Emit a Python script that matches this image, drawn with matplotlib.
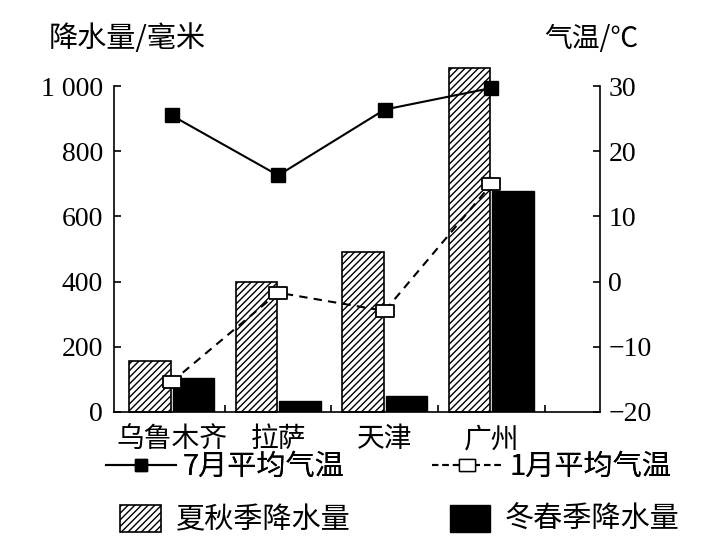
import numpy as np
import matplotlib
matplotlib.use('Agg')
import matplotlib.pyplot as plt
from matplotlib.patches import Patch
from matplotlib.lines import Line2D

plt.rcParams['font.family'] = ['Noto Sans CJK SC', 'DejaVu Sans']
plt.rcParams['hatch.linewidth'] = 1.0
plt.rcParams['axes.unicode_minus'] = True

cities = ['乌鲁木齐', '拉萨', '天津', '广州']
rain_summer = [155, 398, 490, 1056]   # 夏秋季降水量
rain_winter = [105, 33, 48, 678]      # 冬春季降水量
temp_july = [25.5, 16.3, 26.4, 29.7]
temp_jan = [-15.4, -1.7, -4.5, 14.9]

rain_ticks = [0, 200, 400, 600, 800, 1000]
rain_labels = ['0', '200', '400', '600', '800', '1 000']
temp_ticks = [-20, -10, 0, 10, 20, 30]
temp_labels = ['\u221220', '\u221210', '0', '10', '20', '30']

num_font = {'family': 'Liberation Serif', 'size': 20}
cjk = ['Noto Sans CJK SC', 'DejaVu Sans']

fig = plt.figure(figsize=(7.13, 5.5), dpi=100)
ax = fig.add_axes([0.160, 0.251, 0.6815, 0.5925])

x = np.arange(len(cities))
w = 0.39
ax.bar(x - 0.205, rain_summer, w, facecolor='white', edgecolor='black',
       hatch='/////', linewidth=1.2, clip_on=False, zorder=2)
ax.bar(x + 0.205, rain_winter, w, color='black', edgecolor='black',
       linewidth=1.0, zorder=2)

ax.set_xlim(-0.54, 4.02)
ax.set_ylim(0, 1000)
ax.spines['top'].set_visible(False)
ax.spines['right'].set_visible(False)
for s in ax.spines.values():
    s.set_linewidth(1.2)

ax.set_yticks(rain_ticks)
ax.set_yticklabels(rain_labels, fontdict=num_font)
ax.tick_params(axis='y', direction='in', length=5, width=1.2, pad=8)

ax.set_xticks(x + 0.5)
ax.set_xticklabels([])
ax.tick_params(axis='x', which='major', direction='in', length=5, width=1.2)
ax.set_xticks(x, minor=True)
ax.set_xticklabels(cities, minor=True, fontsize=20, family=cjk)
ax.tick_params(axis='x', which='minor', length=0, pad=9)

ax2 = ax.twinx()
ax2.set_ylim(-20, 30)
ax2.spines['top'].set_visible(False)
ax2.spines['left'].set_visible(False)
ax2.spines['bottom'].set_visible(False)
ax2.spines['right'].set_linewidth(1.2)
ax2.set_yticks(temp_ticks)
ax2.set_yticklabels(temp_labels, fontdict=num_font)
ax2.tick_params(axis='y', direction='in', length=5, width=1.2, pad=6)

rect = [(-1.5, -1), (1.5, -1), (1.5, 1), (-1.5, 1), (-1.5, -1)]
l1, = ax2.plot(x, temp_july, color='black', lw=1.5, marker='s',
               markersize=10, markerfacecolor='black', zorder=5,
               clip_on=False)
l2, = ax2.plot(x, temp_jan, color='black', lw=1.5, ls=(0, (4, 3)),
               marker=rect, markersize=13, markerfacecolor='white',
               markeredgecolor='black', markeredgewidth=1.3, zorder=5,
               clip_on=False)

fig.text(0.178, 0.93, '降水量/毫米', fontsize=21, family=cjk,
         ha='center', va='center')
fig.text(0.83, 0.93, '气温/℃', fontsize=20, family=cjk,
         ha='center', va='center')

h1 = Line2D([], [], color='black', lw=1.5, marker='s', markersize=9,
            markerfacecolor='black')
h2 = Line2D([], [], color='black', lw=1.5, ls=(0, (3, 2)), marker=rect,
            markersize=12, markerfacecolor='white', markeredgecolor='black')
leg1 = fig.legend([h1, h2], ['7月平均气温', '1月平均气温'], loc='center',
                  bbox_to_anchor=(0.545, 1 - 467 / 550), ncol=2,
                  frameon=False, handlelength=2.4, handletextpad=0.25,
                  columnspacing=3.0, prop={'family': cjk, 'size': 21})

p1 = Patch(facecolor='white', edgecolor='black', hatch='/////', linewidth=1.2)
p2 = Patch(facecolor='black', edgecolor='black')
leg2 = fig.legend([p1, p2], ['夏秋季降水量', '冬春季降水量'], loc='center',
                  bbox_to_anchor=(0.561, 1 - 520 / 550), ncol=2,
                  frameon=False, handlelength=1.4, handleheight=1.05,
                  handletextpad=0.5, columnspacing=3.4,
                  prop={'family': cjk, 'size': 21})
fig.add_artist(leg1)

fig.savefig('out.png', dpi=100)
